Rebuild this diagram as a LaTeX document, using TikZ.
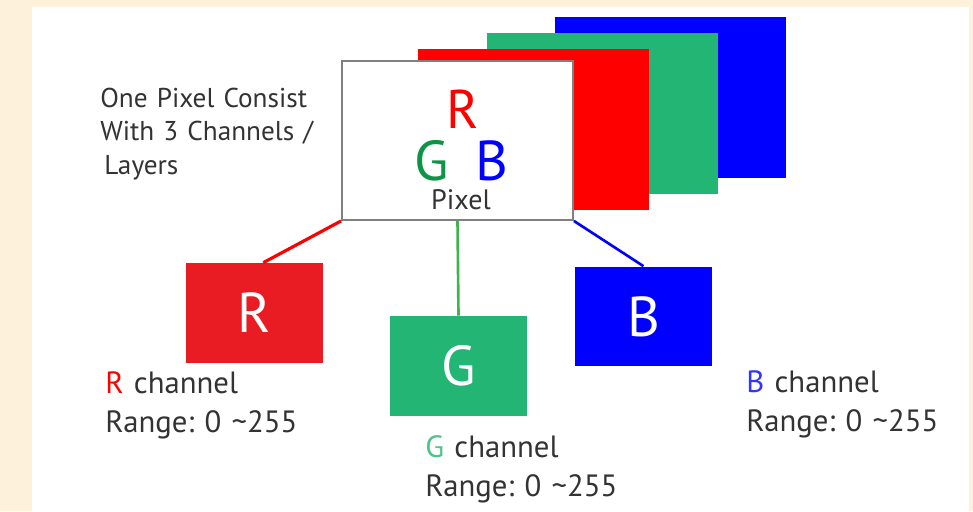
\documentclass[tikz,border=0pt]{standalone}
\usepackage{fontspec}
\setmainfont{PT Sans}
\frenchspacing
\definecolor{bgcream}{HTML}{FEF1DC}
\definecolor{pxred}{HTML}{FF0000}
\definecolor{pxgreen}{HTML}{22B573}
\definecolor{pxblue}{HTML}{0000FF}
\definecolor{boxred}{HTML}{E91C24}
\definecolor{txtgray}{HTML}{333333}
\definecolor{gtxt}{HTML}{0E9447}
\definecolor{glabel}{HTML}{4CC38A}
\definecolor{gline}{HTML}{3DB54A}
\begin{document}
\begin{tikzpicture}
    [
        x=0.02cm, y=-0.02cm,
        every node/.style={inner sep=0pt, text=txtgray},
        layer/.style={minimum width=4.62cm, minimum height=3.22cm},
        chanbox/.style={minimum width=2.74cm, minimum height=2cm, text=white, font=\fontsize{32}{32}\selectfont},
        chanlabel/.style={anchor=base west, text width=4.5cm, align=left, font=\fontsize{17.5}{22.3}\selectfont},
        link/.style={line width=1.8pt},
    ]
  % Background
  \useasboundingbox (0,0) rectangle (973,511);
  \fill [bgcream] (0,0) rectangle (973,511);
  \fill [white] (32,7) rectangle (969,511);

  % Layers
  \node [layer, fill=pxblue] (layerB) at (670.5,97.5) {};
  \node [layer, fill=pxgreen] (layerG) at (602.5,113.5) {};
  \node [layer, fill=pxred] (layerR) at (533.5,129.5) {};
  \node [layer, minimum height=3.18cm, fill=white, draw=gray, line width=1.1pt] (pixel) at (457.5,140.5) {};

  % Pixel letters
  \node [anchor=base, text=pxred, font=\fontsize{31}{31}\selectfont] (pR) at (463,128) {R};
  \node [anchor=base, text=gtxt, font=\fontsize{32}{32}\selectfont] (pG) at (432,180) {G};
  \node [anchor=base, text=pxblue, font=\fontsize{32}{32}\selectfont] (pB) at (492,180) {B};
  \node [anchor=base, font=\fontsize{16}{16}\selectfont] (pname) at (461,209) {Pixel};

  % Note
  \node [anchor=base west, text width=4.5cm, align=left, font=\fontsize{15.5}{19.3}\selectfont] (note) at (100,107)
    {One Pixel Consist\\With 3 Channels /\\\hspace{0.15em}Layers};

  % Channels
  \node [chanbox, fill=boxred] (boxR) at (254.5,313) {R};
  \node [chanbox, fill=pxgreen] (boxG) at (458.5,366) {G};
  \node [chanbox, fill=pxblue] (boxB) at (643.5,316.5) {B};

  \node [chanlabel] (labR) at (105,393) {\textcolor{pxred}{R} channel\\Range: 0 \textasciitilde255};
  \node [chanlabel] (labG) at (425,457) {\textcolor{glabel}{G} channel\\Range: 0 \textasciitilde255};
  \node [chanlabel] (labB) at (746,392) {\textcolor{pxblue!80!white}{B} channel\\Range: 0 \textasciitilde255};

  % Connections
  \draw [link, pxred] (pixel.south west) -- ([xshift=5]boxR.north);
  \draw [link, gline, line width=1.5pt] (pixel.south) -- (boxG.north);
  \draw [link, pxblue, line width=1.5pt] (pixel.south east) -- (boxB.north);
\end{tikzpicture}
\end{document}
